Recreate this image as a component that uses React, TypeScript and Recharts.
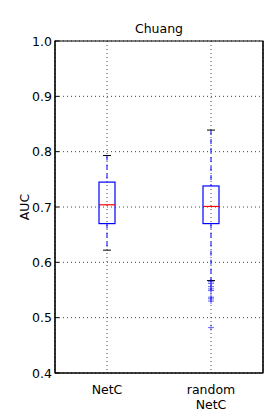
import React from 'react';
import {
  ComposedChart, Bar, Scatter, XAxis, YAxis, CartesianGrid, ReferenceArea,
} from 'recharts';

const categories = ['NetC', 'random NetC'];
const whiskerLow = [0.622, 0.567];
const q1 = [0.670, 0.670];
const median = [0.704, 0.701];
const q3 = [0.745, 0.738];
const whiskerHigh = [0.793, 0.839];
const outlierCategory = 'random NetC';
const outlierValues = [0.565, 0.562, 0.556, 0.552, 0.549, 0.537, 0.534, 0.530, 0.482];
const yTicks = [0.4, 0.5, 0.6, 0.7, 0.8, 0.9, 1.0];

const data = categories.map((name, i) => ({
  name,
  range: [whiskerLow[i], whiskerHigh[i]],
  lo: whiskerLow[i],
  q1: q1[i],
  med: median[i],
  q3: q3[i],
  hi: whiskerHigh[i],
}));

const outlierData = outlierValues.map((v) => ({ name: outlierCategory, value: v }));

const FONT = 'DejaVu Sans, sans-serif';

const BoxShape = (props: any) => {
  const { x, y, width, height, payload } = props;
  const { lo, hi } = payload;
  const py = (v: number) => y + (height * (hi - v)) / (hi - lo);
  const cx = x + width / 2;
  const capHalf = width / 4;
  return (
    <g>
      <line x1={cx} x2={cx} y1={py(hi)} y2={py(payload.q3)} stroke="#0000ff" strokeWidth={1} strokeDasharray="5 4" />
      <line x1={cx} x2={cx} y1={py(payload.q1)} y2={py(lo)} stroke="#0000ff" strokeWidth={1} strokeDasharray="5 4" />
      <line x1={cx - capHalf} x2={cx + capHalf} y1={py(hi)} y2={py(hi)} stroke="#000" strokeWidth={1} />
      <line x1={cx - capHalf} x2={cx + capHalf} y1={py(lo)} y2={py(lo)} stroke="#000" strokeWidth={1} />
      <rect x={x} y={py(payload.q3)} width={width} height={py(payload.q1) - py(payload.q3)} fill="none" stroke="#0000ff" strokeWidth={1.2} />
      <line x1={x} x2={x + width} y1={py(payload.med)} y2={py(payload.med)} stroke="#ff0000" strokeWidth={1.2} />
    </g>
  );
};

const PlusShape = (props: any) => {
  const { cx, cy } = props;
  const s = 3;
  return (
    <g opacity={0.6}>
      <line x1={cx - s} x2={cx + s} y1={cy} y2={cy} stroke="#0000ff" strokeWidth={1} />
      <line x1={cx} x2={cx} y1={cy - s} y2={cy + s} stroke="#0000ff" strokeWidth={1} />
    </g>
  );
};

const LeftTick = (props: any) => {
  const { x, y, payload } = props;
  return (
    <g>
      <line x1={x + 3} x2={x + 7} y1={y} y2={y} stroke="#000" strokeWidth={1} />
      <text x={x} y={y} dy={4.5} textAnchor="end" fontFamily={FONT} fontSize={12.5} fill="#000">
        {Number(payload.value).toFixed(1)}
      </text>
    </g>
  );
};

const RightTick = (props: any) => {
  const { x, y } = props;
  return <line x1={x} x2={x - 4} y1={y} y2={y} stroke="#000" strokeWidth={1} />;
};

const XTick = (props: any) => {
  const { x, y, payload } = props;
  const lines = String(payload.value).split(' ');
  return (
    <text x={x} y={y} textAnchor="middle" fontFamily={FONT} fontSize={12.5} fill="#000">
      {lines.map((l, i) => (
        <tspan key={i} x={x} dy={i === 0 ? 13 : 14.5}>{l}</tspan>
      ))}
    </text>
  );
};

export default function App() {
  return (
    <div style={{ position: 'absolute', left: 0, top: 0, width: 277, height: 415, background: '#fff' }}>
      <div style={{ position: 'absolute', left: 55, width: 208, top: 21, textAlign: 'center', fontFamily: FONT, fontSize: 12.5, lineHeight: '16px' }}>
        Chuang
      </div>
      <div style={{ position: 'absolute', left: 25, top: 207, transform: 'translate(-50%, -50%) rotate(-90deg)', fontFamily: FONT, fontSize: 12.5, lineHeight: '14px', whiteSpace: 'nowrap' }}>
        AUC
      </div>
      <ComposedChart width={277} height={415} data={data} margin={{ top: 41, right: 0, bottom: 0, left: 0 }}>
        <CartesianGrid yAxisId="left" stroke="#444" strokeDasharray="1 3" />
        <XAxis dataKey="name" type="category" allowDuplicatedCategory={false} height={42} axisLine={{ stroke: '#000' }} tickLine={false} tick={<XTick />} interval={0} />
        <YAxis yAxisId="left" type="number" domain={[0.4, 1.0]} ticks={yTicks} width={55} axisLine={{ stroke: '#000' }} tickLine={false} tickSize={0} tickMargin={3} tick={<LeftTick />} interval={0} />
        <YAxis yAxisId="right" orientation="right" type="number" domain={[0.4, 1.0]} ticks={yTicks} width={14} axisLine={{ stroke: '#000' }} tickLine={false} tickSize={0} tickMargin={0} tick={<RightTick />} interval={0} />
        <ReferenceArea yAxisId="left" y1={0.4} y2={1.0} fill="none" stroke="#000" strokeWidth={1.2} ifOverflow="visible" />
        <Bar yAxisId="left" dataKey="range" barSize={16} shape={<BoxShape />} isAnimationActive={false} />
        <Scatter yAxisId="left" data={outlierData} dataKey="value" shape={<PlusShape />} isAnimationActive={false} />
      </ComposedChart>
    </div>
  );
}
